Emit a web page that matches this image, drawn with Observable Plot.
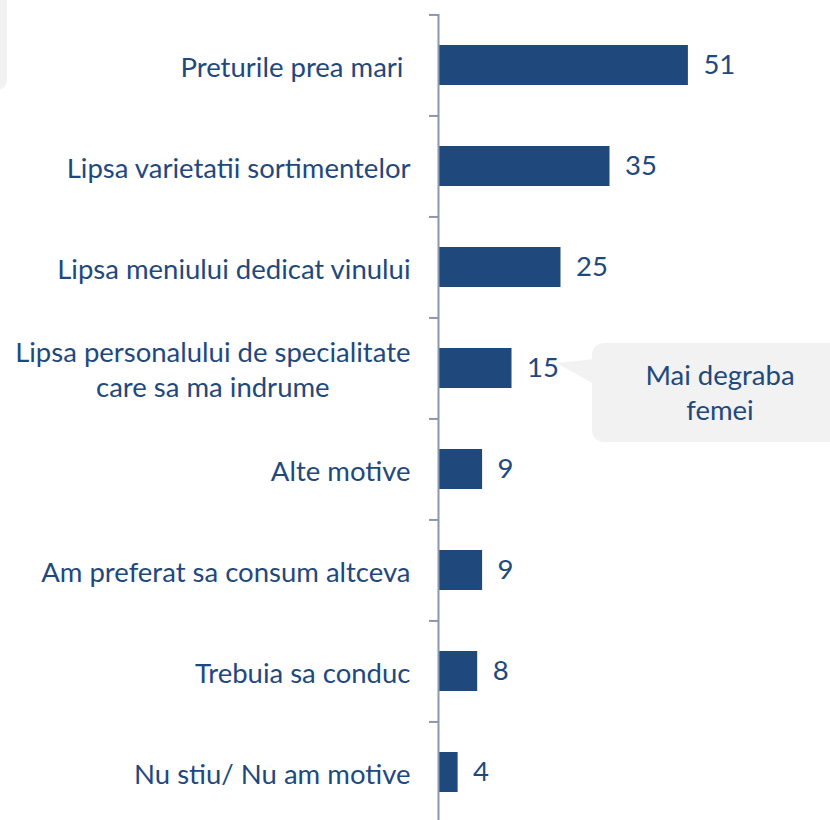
<!DOCTYPE html>
<html>
<head>
<meta charset="utf-8">
<script src="https://cdn.jsdelivr.net/npm/d3@7"></script>
<script src="https://cdn.jsdelivr.net/npm/@observablehq/plot@0.6"></script>
<style>
  html, body { margin: 0; padding: 0; background: #fff; }
  #chart { width: 830px; height: 820px; overflow: hidden; }
</style>
</head>
<body>
<div id="chart"></div>
<script>
const categories = [
  "Preturile prea mari ",
  "Lipsa varietatii sortimentelor",
  "Lipsa meniului dedicat vinului",
  "Lipsa personalului de specialitate\ncare sa ma indrume",
  "Alte motive",
  "Am preferat sa consum altceva",
  "Trebuia sa conduc",
  "Nu stiu/ Nu am motive"
];
const values = [51, 35, 25, 15, 9, 9, 8, 4];
const calloutCategory = categories[3];
const calloutText = "Mai degraba\nfemei";

const data = categories.map((c, i) => ({category: c, value: values[i]}));

const W = 830, H = 820, MT = 14, MB = -3, ML = 438;
const step = (H - MT - MB) / categories.length;
const blue = "#1F497D";
const axisColor = "#8C96AD";
const font = "Lato, 'Open Sans', sans-serif";
const fs = 27.5;

const plot = Plot.plot({
  width: W, height: H,
  marginTop: MT, marginBottom: MB, marginLeft: ML, marginRight: 0,
  style: {fontFamily: font, fontSize: fs + "px", color: blue, background: "transparent"},
  x: {domain: [0, 80], axis: null},
  y: {type: "band", domain: categories, paddingInner: 0.6, paddingOuter: 0.3, axis: null},
  marks: [
    Plot.barX(data, {x: "value", y: "category", fill: blue}),
    Plot.ruleX([0], {stroke: axisColor, strokeWidth: 2}),
    Plot.ruleY(categories, {y: d => d, x1: -9 / 4.9, x2: 0, dy: -step / 2, stroke: axisColor, strokeWidth: 2}),
    Plot.text(data, {x: 0, y: "category", text: "category", dx: -28, textAnchor: "end",
      fill: blue, fontSize: fs, lineHeight: 1.27}),
    Plot.text(data, {x: "value", y: "category", text: d => String(d.value), dx: 15, textAnchor: "start",
      fill: blue, fontSize: fs})
  ]
});

document.getElementById("chart").appendChild(plot);

// center multi-line category labels (like the original)
d3.select(plot).selectAll("text").each(function() {
  const tspans = this.querySelectorAll("tspan");
  if (tspans.length > 1) {
    let maxW = 0;
    tspans.forEach(t => { maxW = Math.max(maxW, t.getComputedTextLength()); });
    this.setAttribute("text-anchor", "middle");
    tspans.forEach(t => t.setAttribute("x", -maxW / 2));
  }
});

// annotations
const xs = plot.scale("x"), ys = plot.scale("y");
const svg = d3.select(plot);
const cy = ys.apply(calloutCategory) + ys.bandwidth / 2;
const bx = 592, by = cy - 25, bh = 99;
const ann = svg.insert("g", ":first-child");
ann.append("rect").attr("x", -20).attr("y", -20).attr("width", 27).attr("height", 110)
  .attr("rx", 10).attr("fill", "#F2F2F2");
ann.append("rect").attr("x", bx).attr("y", by).attr("width", 260).attr("height", bh)
  .attr("rx", 12).attr("fill", "#F2F2F2");
ann.append("path")
  .attr("d", `M${bx + 2},${by + 16}L${xs.apply(values[3]) + 45},${cy - 5}L${bx + 2},${by + 41}Z`)
  .attr("fill", "#F2F2F2");
const lines = calloutText.split("\n");
lines.forEach((l, i) => {
  ann.append("text").attr("x", 720).attr("y", by + 42 + i * 35)
    .attr("text-anchor", "middle").attr("fill", blue)
    .attr("font-family", font).attr("font-size", fs).text(l);
});
</script>
</body>
</html>
